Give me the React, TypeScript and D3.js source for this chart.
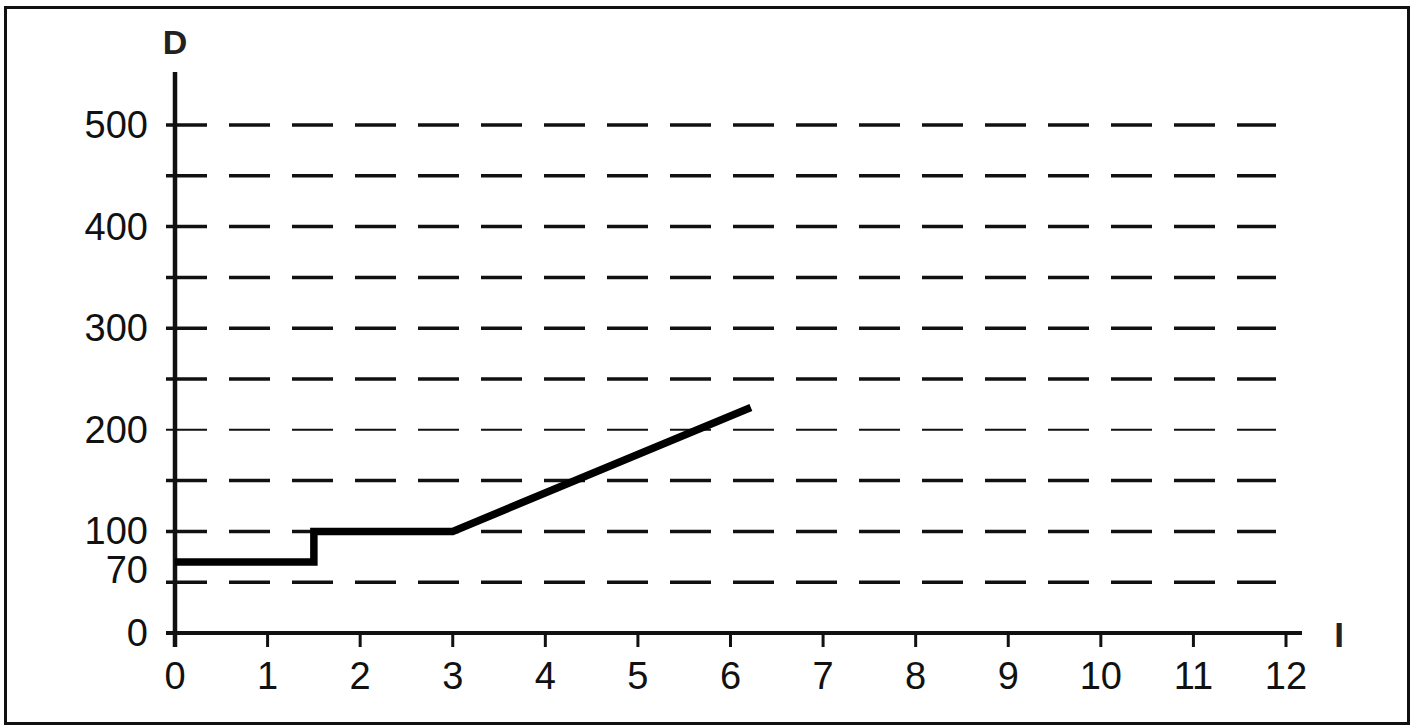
import { useEffect, useRef } from "react";
import * as d3 from "d3";

// step line: I on x, D on y
const lineI = [0, 1.5, 1.5, 3, 6.22];
const lineD = [70, 70, 100, 100, 222];

const xTicks = [0, 1, 2, 3, 4, 5, 6, 7, 8, 9, 10, 11, 12];
const gridValues = [50, 100, 150, 200, 250, 300, 350, 400, 450, 500];
const yLabels = [0, 70, 100, 200, 300, 400, 500];

const width = 1412;
const height = 726;

function App() {
  const ref = useRef<SVGSVGElement>(null);

  useEffect(() => {
    const svg = d3.select(ref.current);
    svg.selectAll("*").remove();

    const x = d3.scaleLinear().domain([0, 12]).range([175, 1286]);
    const y = d3.scaleLinear().domain([0, 500]).range([633, 125]);
    const font = "'Liberation Sans', Arial, sans-serif";

    // frame
    svg
      .append("rect")
      .attr("x", 5.5)
      .attr("y", 7.5)
      .attr("width", 1403)
      .attr("height", 716)
      .attr("fill", "white")
      .attr("stroke", "#111")
      .attr("stroke-width", 3);

    // dashed grid lines (with the small tick left of the axis)
    svg
      .selectAll("line.grid")
      .data(gridValues)
      .enter()
      .append("line")
      .attr("class", "grid")
      .attr("x1", 166)
      .attr("x2", 1276)
      .attr("y1", (d) => y(d))
      .attr("y2", (d) => y(d))
      .attr("stroke", "#111")
      .attr("stroke-width", (d) => (d === 200 ? 2 : 3.5))
      .attr("stroke-dasharray", "41 22");

    // x axis
    svg
      .append("line")
      .attr("x1", 166)
      .attr("x2", 1302)
      .attr("y1", y(0))
      .attr("y2", y(0))
      .attr("stroke", "#111")
      .attr("stroke-width", 4);

    svg
      .selectAll("line.xtick")
      .data(xTicks)
      .enter()
      .append("line")
      .attr("class", "xtick")
      .attr("x1", (d) => x(d))
      .attr("x2", (d) => x(d))
      .attr("y1", y(0))
      .attr("y2", y(0) + 14)
      .attr("stroke", "#111")
      .attr("stroke-width", 3);

    svg
      .selectAll("text.xlab")
      .data(xTicks)
      .enter()
      .append("text")
      .attr("class", "xlab")
      .attr("x", (d) => x(d))
      .attr("y", 689)
      .attr("text-anchor", "middle")
      .attr("font-family", font)
      .attr("font-size", 38)
      .attr("fill", "#111")
      .text((d) => d);

    // y axis
    svg
      .append("line")
      .attr("x1", x(0))
      .attr("x2", x(0))
      .attr("y1", 72)
      .attr("y2", 647)
      .attr("stroke", "#111")
      .attr("stroke-width", 4.5);

    svg
      .selectAll("text.ylab")
      .data(yLabels)
      .enter()
      .append("text")
      .attr("class", "ylab")
      .attr("x", 148)
      .attr("y", (d) => y(d) + (d === 70 ? 21 : 13))
      .attr("text-anchor", "end")
      .attr("font-family", font)
      .attr("font-size", 38)
      .attr("fill", "#111")
      .text((d) => d);

    // axis titles
    svg
      .append("text")
      .attr("x", 175)
      .attr("y", 54)
      .attr("text-anchor", "middle")
      .attr("font-family", font)
      .attr("font-weight", "bold")
      .attr("font-size", 34)
      .attr("fill", "#222")
      .text("D");

    svg
      .append("text")
      .attr("x", 1339)
      .attr("y", 647)
      .attr("text-anchor", "middle")
      .attr("font-family", font)
      .attr("font-weight", "bold")
      .attr("font-size", 35)
      .attr("fill", "#222")
      .text("I");

    // data line
    const pts: [number, number][] = lineI.map((v, i) => [v, lineD[i]]);
    const line = d3
      .line<[number, number]>()
      .x((d) => x(d[0]))
      .y((d) => y(d[1]));

    svg
      .append("path")
      .attr("d", line(pts))
      .attr("fill", "none")
      .attr("stroke", "#000")
      .attr("stroke-width", 7.5)
      .attr("stroke-linejoin", "miter");
  }, []);

  return (
    <svg
      ref={ref}
      width={width}
      height={height}
      style={{ position: "absolute", left: 0, top: 0, background: "white" }}
    />
  );
}

export default App;
